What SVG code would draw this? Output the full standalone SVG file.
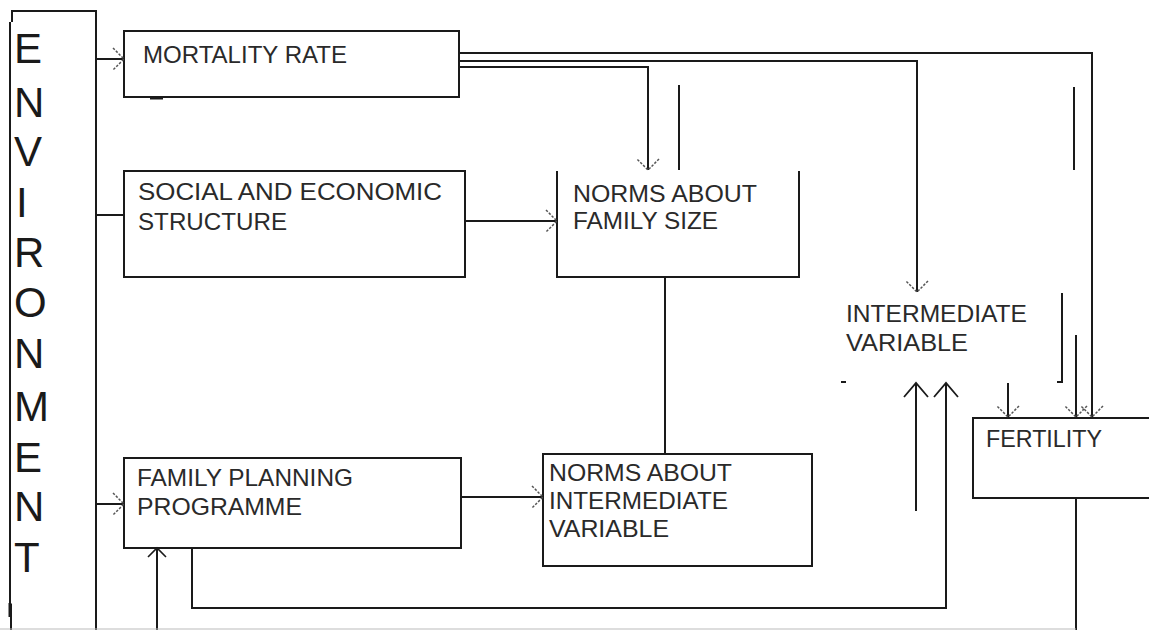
<svg xmlns="http://www.w3.org/2000/svg" width="1149" height="630" viewBox="0 0 1149 630">
<defs>
<style>
.ln{fill:none;stroke:#1a1a1a;stroke-width:2}
.tx{font-family:"Liberation Sans",Arial,sans-serif;font-size:24px;fill:#2a2a2a}
.env{font-family:"Liberation Sans",Arial,sans-serif;font-size:42px;fill:#1a1a1a}
</style>
<marker id="ad" markerUnits="userSpaceOnUse" markerWidth="30" markerHeight="30" viewBox="-15 -15 30 30" refX="0" refY="0" orient="auto" overflow="visible">
<path d="M-11,-11 L0,0 L-11,11" fill="none" stroke="#555" stroke-width="1.5" stroke-dasharray="2.5 1.5"/>
</marker>
<marker id="as" markerUnits="userSpaceOnUse" markerWidth="30" markerHeight="30" viewBox="-15 -15 30 30" refX="0" refY="0" orient="auto" overflow="visible">
<path d="M-14,-12 L0,0 L-14,12" fill="none" stroke="#1a1a1a" stroke-width="1.8"/>
</marker>
<marker id="am" markerUnits="userSpaceOnUse" markerWidth="30" markerHeight="30" viewBox="-15 -15 30 30" refX="0" refY="0" orient="auto" overflow="visible">
<path d="M-9,-9 L0,0 L-9,9" fill="none" stroke="#1a1a1a" stroke-width="1.6"/>
</marker>
</defs>
<rect x="0" y="0" width="1149" height="630" fill="#ffffff"/>

<g id="environment">
<path class="ln" d="M97,11 H12 V22 M10,22 V604 M11,604 V617 M11,617 V630 M96,11 V630"/>
<path d="M10,603 V617" stroke="#1a1a1a" stroke-width="3"/>
<text class="env" x="14" y="63">E</text>
<text class="env" x="14" y="117">N</text>
<text class="env" x="14" y="166">V</text>
<text class="env" x="16" y="217">I</text>
<text class="env" x="14" y="267">R</text>
<text class="env" x="14" y="317">O</text>
<text class="env" x="14" y="368">N</text>
<text class="env" x="14" y="421">M</text>
<text class="env" x="14" y="472">E</text>
<text class="env" x="14" y="521">N</text>
<text class="env" x="14" y="572">T</text>
</g>

<g id="mortality">
<rect class="ln" x="124" y="31" width="335" height="66"/>
<path d="M150,98 H163" stroke="#1a1a1a" stroke-width="3"/>
<text class="tx" x="143" y="63" textLength="204" lengthAdjust="spacingAndGlyphs">MORTALITY RATE</text>
</g>

<g id="social">
<rect class="ln" x="124" y="171" width="341" height="106"/>
<text class="tx" x="138" y="200" textLength="304" lengthAdjust="spacingAndGlyphs">SOCIAL AND ECONOMIC</text>
<text class="tx" x="138" y="230" textLength="149" lengthAdjust="spacingAndGlyphs">STRUCTURE</text>
</g>

<g id="norms-family-size">
<path class="ln" d="M557,171 V277 H799 V171"/>
<text class="tx" x="573" y="202" textLength="184" lengthAdjust="spacingAndGlyphs">NORMS ABOUT</text>
<text class="tx" x="573" y="229" textLength="145" lengthAdjust="spacingAndGlyphs">FAMILY SIZE</text>
</g>

<g id="family-planning">
<rect class="ln" x="124" y="458" width="337" height="90"/>
<text class="tx" x="137" y="486" textLength="216" lengthAdjust="spacingAndGlyphs">FAMILY PLANNING</text>
<text class="tx" x="137" y="515" textLength="165" lengthAdjust="spacingAndGlyphs">PROGRAMME</text>
</g>

<g id="norms-intermediate">
<rect class="ln" x="543" y="454" width="269" height="112"/>
<text class="tx" x="549" y="481" textLength="183" lengthAdjust="spacingAndGlyphs">NORMS ABOUT</text>
<text class="tx" x="549" y="509" textLength="179" lengthAdjust="spacingAndGlyphs">INTERMEDIATE</text>
<text class="tx" x="549" y="537" textLength="120" lengthAdjust="spacingAndGlyphs">VARIABLE</text>
</g>

<g id="intermediate-variable">
<text class="tx" x="846" y="322" textLength="181" lengthAdjust="spacingAndGlyphs">INTERMEDIATE</text>
<text class="tx" x="846" y="351" textLength="122" lengthAdjust="spacingAndGlyphs">VARIABLE</text>
<path d="M841,382 H846" stroke="#1a1a1a" stroke-width="2"/>
</g>

<g id="fertility">
<path class="ln" d="M1149,418 H973 V498 H1149"/>
<text class="tx" x="986" y="447" textLength="116" lengthAdjust="spacingAndGlyphs">FERTILITY</text>
</g>

<g id="connectors">
<path class="ln" d="M96,59 H124" marker-end="url(#ad)"/>
<path class="ln" d="M96,215 H124"/>
<path class="ln" d="M96,504 H124" marker-end="url(#ad)"/>
<path class="ln" d="M465,221 H557" marker-end="url(#ad)"/>
<path class="ln" d="M461,497 H543" marker-end="url(#ad)"/>
<path class="ln" d="M459,67 H648 V170" marker-end="url(#ad)"/>
<path class="ln" d="M459,61 H917 V292" marker-end="url(#ad)"/>
<path class="ln" d="M459,53 H1092 V417" marker-end="url(#ad)"/>
<path class="ln" d="M679,85 V170"/>
<path class="ln" d="M1074,87 V170"/>
<path class="ln" d="M665,277 V454"/>
<path class="ln" d="M1062,293 V382 H1057"/>
<path class="ln" d="M1076,335 V417" marker-end="url(#ad)"/>
<path class="ln" d="M1008,383 V417" marker-end="url(#ad)"/>
<path class="ln" d="M916,511 V383" marker-end="url(#as)"/>
<path class="ln" d="M192,548 V608 H946 V383" marker-end="url(#as)"/>
<path class="ln" d="M157,630 V548" marker-end="url(#am)"/>
<path class="ln" d="M1076,498 V630"/>
<path d="M0,629 H1076" stroke="#bbbbbb" stroke-width="1"/>
</g>
</svg>
